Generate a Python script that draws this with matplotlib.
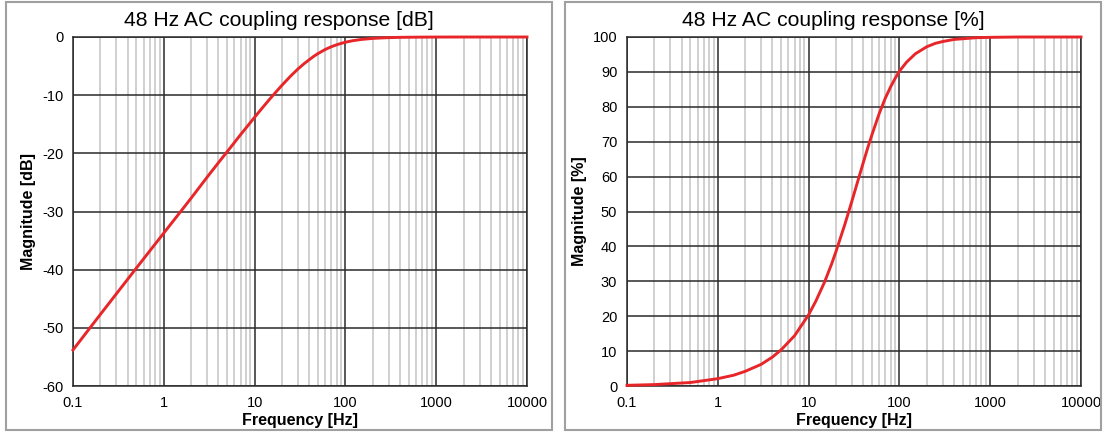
import numpy as np
import matplotlib
matplotlib.use("Agg")
import matplotlib.pyplot as plt
from matplotlib.patches import Rectangle
from matplotlib.ticker import LogLocator, FixedLocator, NullFormatter

plt.rcParams['font.family'] = ['Liberation Sans', 'DejaVu Sans']
plt.rcParams['axes.unicode_minus'] = False

# %% values
freq_hz = [0.1, 0.2, 0.5, 1, 1.5, 2, 3, 4, 5, 7, 10, 12, 15, 18, 20, 25, 30, 35,
           40, 45, 50, 60, 70, 80, 90, 100, 120, 150, 200, 250, 300, 400, 500,
           700, 1000, 2000, 5000, 10000]
mag_db = [-53.8, -47.7, -39.7, -33.7, -30.2, -27.7, -24.1, -21.6, -19.7, -16.8,
          -13.8, -12.3, -10.5, -9.1, -8.3, -6.7, -5.5, -4.6, -3.9, -3.3, -2.84,
          -2.14, -1.67, -1.34, -1.09, -0.90, -0.64, -0.42, -0.24, -0.16, -0.11,
          -0.06, -0.04, -0.02, -0.01, 0.0, 0.0, 0.0]
mag_pct = [0.2, 0.4, 1.0, 2.1, 3.1, 4.2, 6.2, 8.3, 10.4, 14.4, 20.4, 24.3, 29.8,
           35.1, 38.5, 46.2, 53.0, 58.9, 64.0, 68.4, 72.1, 78.1, 82.5, 85.7,
           88.2, 90.2, 92.8, 95.2, 97.2, 98.2, 98.7, 99.3, 99.5, 99.8, 99.9,
           100.0, 100.0, 100.0]

titles = ["48 Hz AC coupling response [dB]", "48 Hz AC coupling response [%]"]
ylabels = ["Magnitude [dB]", "Magnitude [%]"]
x_ticks = [0.1, 1, 10, 100, 1000, 10000]
x_ticklabels = ["0.1", "1", "10", "100", "1000", "10000"]
y_ticks_db = list(range(-60, 1, 10))
y_ticks_pct = list(range(0, 101, 10))

# %% figure
W, H = 1104, 432
fig = plt.figure(figsize=(W / 100, H / 100), dpi=100)

panels = [(6, 552), (565, 1101)]   # frame x-extent in px
axes_x = [73, 627]
ax_w, ax_top, ax_bot = 454, 37, 386

series = [(mag_db, y_ticks_db, (-60, 0)), (mag_pct, y_ticks_pct, (0, 100))]

for i, (ys, yt, ylim) in enumerate(series):
    px0, px1 = panels[i]
    fig.patches.append(Rectangle((px0 / W, 2 / H), (px1 - px0) / W, (H - 4) / H,
                                 transform=fig.transFigure, fill=False,
                                 edgecolor='#a0a0a0', linewidth=1.5))
    ax = fig.add_axes([axes_x[i] / W, (H - ax_bot) / H, ax_w / W, (ax_bot - ax_top) / H])
    ax.set_xscale('log')
    ax.set_xlim(0.1, 10000)
    ax.set_ylim(*ylim)
    ax.xaxis.set_major_locator(FixedLocator(x_ticks))
    ax.set_xticklabels(x_ticklabels)
    ax.xaxis.set_minor_locator(LogLocator(base=10, subs=np.arange(2, 10)))
    ax.xaxis.set_minor_formatter(NullFormatter())
    ax.set_yticks(yt)
    ax.grid(which='minor', axis='x', color='#c4c4c4', linewidth=1.1)
    ax.grid(which='major', axis='both', color='#2a2a2a', linewidth=1.1)
    ax.set_axisbelow(True)
    ax.tick_params(which='both', length=0, labelsize=10.5, colors='black', pad=7)
    for s in ax.spines.values():
        s.set_color('#2a2a2a')
        s.set_linewidth(1.1)
    ax.plot(freq_hz, ys, color='#e8262a', linewidth=2.1, zorder=3, clip_on=False)
    ax.set_xlabel("Frequency [Hz]", fontsize=11.5, fontweight='bold', labelpad=2)
    ax.set_ylabel(ylabels[i], fontsize=11.5, fontweight='bold', labelpad=4)
    fig.text((px0 + px1) / 2 / W, 1 - 21 / H, titles[i], ha='center', va='center',
             fontsize=15.2)

fig.savefig("out.png", dpi=100)
